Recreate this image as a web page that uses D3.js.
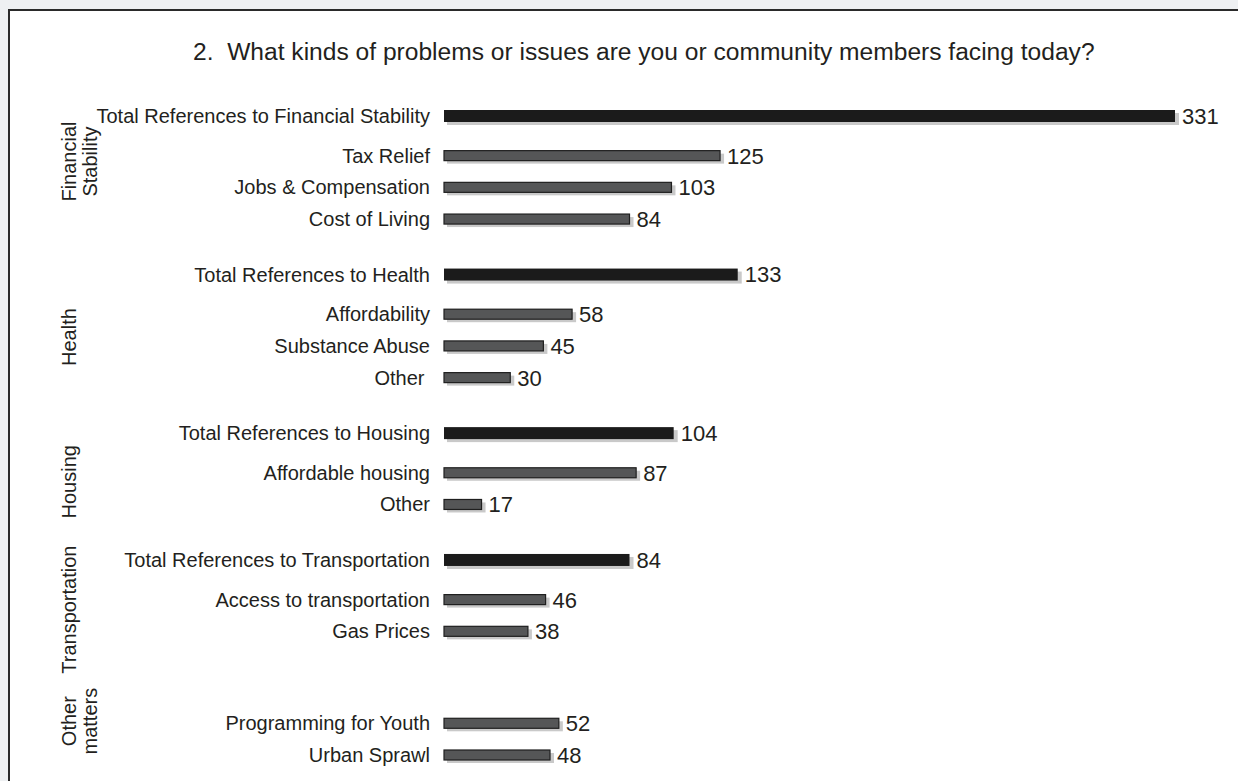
<!DOCTYPE html>
<html>
<head>
<meta charset="utf-8">
<script src="https://cdn.jsdelivr.net/npm/d3@7/dist/d3.min.js"></script>
<style>
  html, body { margin: 0; padding: 0; background: #eef0f2; }
  svg { display: block; font-family: "Liberation Sans", Arial, sans-serif; }
</style>
</head>
<body>
<svg id="chart" width="1238" height="781"></svg>
<script>
// ---- data ----
const title = "2.  What kinds of problems or issues are you or community members facing today?";
const categories = [
  "Total References to Financial Stability", "Tax Relief", "Jobs & Compensation", "Cost of Living",
  "Total References to Health", "Affordability", "Substance Abuse", "Other ",
  "Total References to Housing", "Affordable housing", "Other",
  "Total References to Transportation", "Access to transportation", "Gas Prices",
  "Programming for Youth", "Urban Sprawl"
];
const values = [331, 125, 103, 84, 133, 58, 45, 30, 104, 87, 17, 84, 46, 38, 52, 48];
const groupOf = ["fin","fin","fin","fin","health","health","health","health","housing","housing","housing","trans","trans","trans","other","other"];
const isTotal = [true,false,false,false,true,false,false,false,true,false,false,true,false,false,false,false];
const groupIds = ["fin", "health", "housing", "trans", "other"];
const groupLabels = [["Financial", "Stability"], ["Health"], ["Housing"], ["Transportation"], ["Other", "matters"]];

// ---- layout ----
const svg = d3.select("#chart");
const W = 1238, H = 781;
svg.append("rect").attr("x", 9).attr("y", 10).attr("width", W + 20).attr("height", H + 20)
  .attr("fill", "#fff").attr("stroke", "#2a2a2a").attr("stroke-width", 2);

const tt = svg.append("text").attr("x", 193).attr("y", 60).attr("font-size", 24).attr("fill", "#231f20")
  .style("white-space", "pre").text(title);
// fit title to reference width
const tl = tt.node().getComputedTextLength();
tt.attr("font-size", 24 * 902 / tl);

// slot positions (layout spacing derived from row kinds)
const rows = categories.map((c, i) => ({ cat: c, value: values[i], group: groupOf[i], total: isTotal[i] }));
let slot = 0;
rows.forEach((r, i) => {
  if (i > 0) {
    const prev = rows[i - 1];
    if (prev.group !== r.group) slot += r.total ? 1.75 : 2.9;
    else if (prev.total) slot += 1.25;
    else slot += 1;
  }
  r.slot = slot;
});
const y = d3.scaleLinear().domain([0, slot]).range([116, 755]);
const x = d3.scaleLinear().domain([0, 331]).range([444, 1175]);

const g = svg.append("g");
const bars = g.selectAll("g.row").data(rows).enter().append("g").attr("class", "row");
// shadow
bars.append("rect")
  .attr("x", d => x(0) + 3)
  .attr("y", d => y(d.slot) - (d.total ? 6 : 5) + 3)
  .attr("width", d => x(d.value) - x(0) + 1)
  .attr("height", d => d.total ? 12 : 10)
  .attr("fill", "#c9c9c9");
// bar
bars.append("rect")
  .attr("x", x(0))
  .attr("y", d => y(d.slot) - (d.total ? 6 : 5))
  .attr("width", d => x(d.value) - x(0))
  .attr("height", d => d.total ? 12 : 10)
  .attr("fill", d => d.total ? "#1b1b1b" : "#555657")
  .attr("stroke", d => d.total ? "none" : "#1f1f1f")
  .attr("stroke-width", 1.2);
// category labels
bars.append("text")
  .attr("x", 430).attr("y", d => y(d.slot))
  .attr("dy", "0.35em").attr("text-anchor", "end")
  .attr("font-size", 20).attr("fill", "#231f20")
  .style("white-space", "pre")
  .text(d => d.cat);
// value labels
bars.append("text")
  .attr("x", d => x(d.value) + 7).attr("y", d => y(d.slot))
  .attr("dy", "0.36em")
  .attr("font-size", 22).attr("fill", "#231f20")
  .text(d => d.value);

// group labels (rotated)
const groupShift = { fin: -6, health: 11, housing: 13, trans: 14, other: -18 };
groupIds.forEach((gid, gi) => {
  const ys = rows.filter(r => r.group === gid).map(r => y(r.slot));
  const cy = (d3.min(ys) + d3.max(ys)) / 2 + groupShift[gid];
  const lines = groupLabels[gi];
  const lineH = 21;
  const baseX = 76; // baseline of first line
  const t = svg.append("text")
    .attr("transform", `translate(${baseX},${cy}) rotate(-90)`)
    .attr("text-anchor", "middle").attr("font-size", 20).attr("fill", "#231f20");
  lines.forEach((ln, li) => {
    t.append("tspan").attr("x", 0).attr("y", li * lineH).text(ln);
  });
});
</script>
</body>
</html>
